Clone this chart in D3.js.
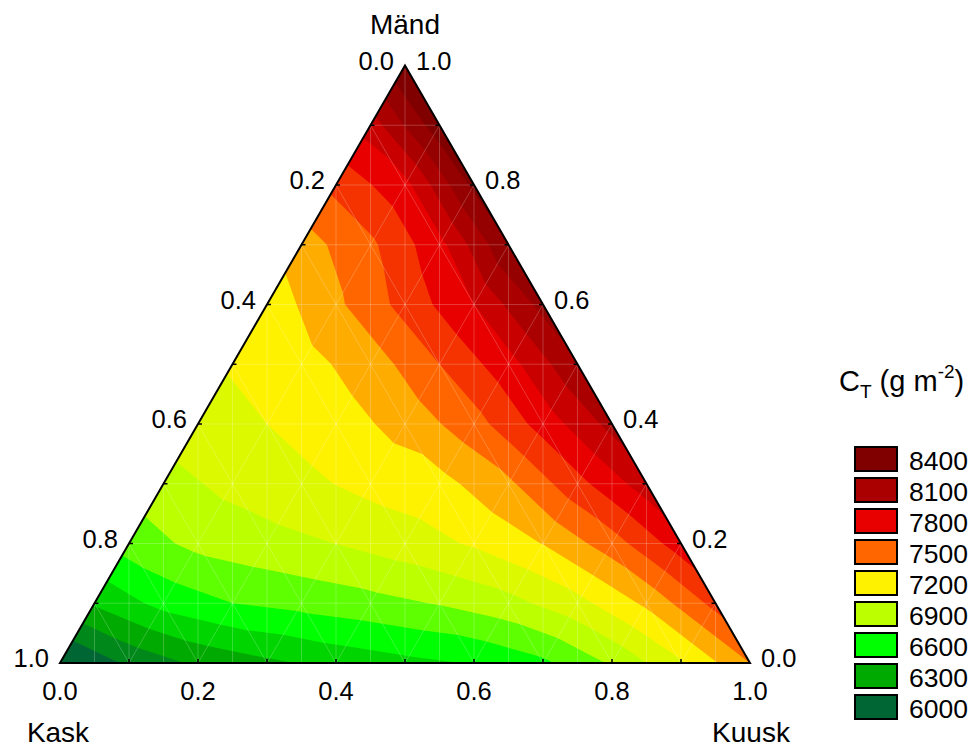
<!DOCTYPE html>
<html>
<head>
<meta charset="utf-8">
<script src="https://cdn.jsdelivr.net/npm/d3@7"></script>
<style>
  body { margin: 0; background: #fff; }
  svg { display: block; }
  text { font-family: "Liberation Sans", Arial, sans-serif; fill: #000; }
</style>
</head>
<body>
<svg id="chart" width="973" height="747"></svg>
<script>
// Total carbon C_T (g m^-2) over the Kask / Kuusk / Mänd mixture.
// One array per Mänd share (0.0 ... 1.0); each runs from Kuusk = 0 upward
// in steps of 0.1, Kask taking the remainder.
const mand00 = [5960, 6180, 6330, 6420, 6500, 6560, 6610, 6720, 6920, 7180, 7500];
const mand01 = [6470, 6650, 6750, 6800, 6850, 6910, 7000, 7150, 7380, 7700];
const mand02 = [6820, 6940, 6997, 7052, 7128, 7218, 7355, 7580, 7880];
const mand03 = [6995, 7091, 7163, 7244, 7300, 7470, 7750, 8030];
const mand04 = [7145, 7200, 7285, 7400, 7590, 7860, 8150];
const mand05 = [7210, 7295, 7422, 7650, 7890, 8230];
const mand06 = [7260, 7470, 7700, 7950, 8300];
const mand07 = [7430, 7620, 7900, 8390];
const mand08 = [7690, 7900, 8440];
const mand09 = [8020, 8500];
const mand10 = [8550];

// Legend classes and their colours
const legendValues = [8400, 8100, 7800, 7500, 7200, 6900, 6600, 6300, 6000];
const legendColors = ["#800000", "#aa0000", "#e80000", "#ff6600", "#fff200",
                      "#bbff00", "#00ff00", "#00aa00", "#006633"];
const contourStep = 150;

// Axis tick labels
const tickValues = [0, 0.2, 0.4, 0.6, 0.8, 1.0];
const minorTicks = d3.range(0, 11).map(d => d / 10);

const rows = [mand00, mand01, mand02, mand03, mand04, mand05,
              mand06, mand07, mand08, mand09, mand10];

const svg = d3.select("#chart");

// Ternary frame: bottom edge Kask (left) -> Kuusk (right), apex Mänd
const xs = d3.scaleLinear().domain([0, 1]).range([60, 750]);
const ys = d3.scaleLinear().domain([0, 1]).range([663, 65.5]);
const pt = (kuusk, mand) => [xs(kuusk + mand / 2), ys(mand)];

const color = d3.scaleLinear()
  .domain(legendValues.slice().reverse())
  .range(legendColors.slice().reverse())
  .interpolate(d3.interpolateRgb)
  .clamp(true);

// Mesh nodes
const node = (j, k) => ({ p: pt(k / 10, j / 10), v: rows[j][k] });
const triangles = [];
for (let j = 0; j < 10; j++) {
  for (let k = 0; k <= 9 - j; k++) {
    triangles.push([node(j, k), node(j, k + 1), node(j + 1, k)]);
    if (k <= 8 - j) triangles.push([node(j, k + 1), node(j + 1, k + 1), node(j + 1, k)]);
  }
}

// Keep the part of a linear-valued polygon where value >= level
function clipAbove(poly, level) {
  const out = [];
  for (let i = 0; i < poly.length; i++) {
    const a = poly[i], b = poly[(i + 1) % poly.length];
    const ain = a.v >= level, bin = b.v >= level;
    if (ain) out.push(a);
    if (ain !== bin) {
      const t = (level - a.v) / (b.v - a.v);
      out.push({ p: [a.p[0] + t * (b.p[0] - a.p[0]), a.p[1] + t * (b.p[1] - a.p[1])], v: level });
    }
  }
  return out;
}

const fillLevels = d3.range(legendValues[legendValues.length - 1], legendValues[0] + 1, contourStep);

const gFill = svg.append("g");
fillLevels.forEach((level, i) => {
  let d = "";
  triangles.forEach(tri => {
    const poly = i === 0 ? tri : clipAbove(tri, level);
    if (poly.length < 3) return;
    d += "M" + poly.map(q => q.p[0].toFixed(2) + "," + q.p[1].toFixed(2)).join("L") + "Z";
  });
  if (d) gFill.append("path").attr("d", d).attr("fill", color(level));
});

// Faint mesh seams
const A = pt(0, 0), B = pt(1, 0), C = pt(0, 1);
svg.append("clipPath").attr("id", "tri")
  .append("path").attr("d", `M${A}L${B}L${C}Z`);
const gMesh = svg.append("g").attr("clip-path", "url(#tri)")
  .attr("stroke", "#fff").attr("stroke-opacity", 0.28).attr("stroke-width", 0.8);
const seg = (p, q) => gMesh.append("line")
  .attr("x1", p[0]).attr("y1", p[1]).attr("x2", q[0]).attr("y2", q[1]);
for (let i = 1; i < 10; i++) {
  const c = i / 10;
  seg(pt(0, c), pt(1 - c, c));        // constant Mänd
  seg(pt(c, 0), pt(c, 1 - c));        // constant Kuusk
  seg(pt(1 - c, 0), pt(0, 1 - c));    // constant Kask
}
for (let i = 1; i < 20; i++) {
  const f = i / 20;
  seg([xs(f), ys(0)], [xs(f), ys(2 * Math.min(f, 1 - f))]);
}

// Outline
svg.append("path").attr("d", `M${A}L${B}L${C}Z`)
  .attr("fill", "none").attr("stroke", "#000").attr("stroke-width", 2)
  .attr("stroke-linejoin", "miter");

// Ticks
const gTick = svg.append("g").attr("stroke", "#000").attr("stroke-width", 1.5);
minorTicks.slice(1, -1).forEach(v => {
  const b = pt(v, 0);          // bottom: Kuusk
  gTick.append("line").attr("x1", b[0]).attr("y1", b[1]).attr("x2", b[0]).attr("y2", b[1] - 4);
  const l = pt(0, 1 - v);      // left: Kask
  gTick.append("line").attr("x1", l[0]).attr("y1", l[1]).attr("x2", l[0] + 4).attr("y2", l[1]);
  const r = pt(1 - v, v);      // right: Mänd
  gTick.append("line").attr("x1", r[0]).attr("y1", r[1]).attr("x2", r[0] - 4).attr("y2", r[1]);
});

const fmt = d3.format(".1f");
const gLab = svg.append("g").style("font-size", "25.5px");
tickValues.forEach(v => {
  const b = pt(v, 0);
  gLab.append("text").attr("x", b[0]).attr("y", 700).attr("text-anchor", "middle").text(fmt(v));
  const l = pt(0, 1 - v);
  gLab.append("text").attr("x", l[0] - 11).attr("y", l[1] + 4).attr("text-anchor", "end").text(fmt(v));
  const r = pt(1 - v, v);
  gLab.append("text").attr("x", r[0] + 11).attr("y", r[1] + 4).attr("text-anchor", "start").text(fmt(v));
});

// Vertex titles
const gTitle = svg.append("g").style("font-size", "28px").attr("text-anchor", "middle");
gTitle.append("text").attr("x", C[0]).attr("y", 34).text("Mänd");
gTitle.append("text").attr("x", A[0] - 2).attr("y", 742).text("Kask");
gTitle.append("text").attr("x", B[0] + 1).attr("y", 742).text("Kuusk");

// Legend
const lt = svg.append("text").attr("x", 839).attr("y", 391).style("font-size", "29px");
lt.append("tspan").text("C");
lt.append("tspan").attr("dy", 7).style("font-size", "19px").text("T");
lt.append("tspan").attr("dy", -7).text(" (g m");
lt.append("tspan").attr("dy", -13).style("font-size", "19px").text("-2");
lt.append("tspan").attr("dy", 13).text(")");

const legend = svg.append("g");
legendValues.forEach((v, i) => {
  const y0 = 447 + 31 * i;
  legend.append("rect").attr("x", 855).attr("y", y0).attr("width", 42).attr("height", 24)
    .attr("fill", legendColors[i]).attr("stroke", "#000").attr("stroke-width", 2);
  legend.append("text").attr("x", 909).attr("y", y0 + 23).style("font-size", "26.5px").text(v);
});
</script>
</body>
</html>
